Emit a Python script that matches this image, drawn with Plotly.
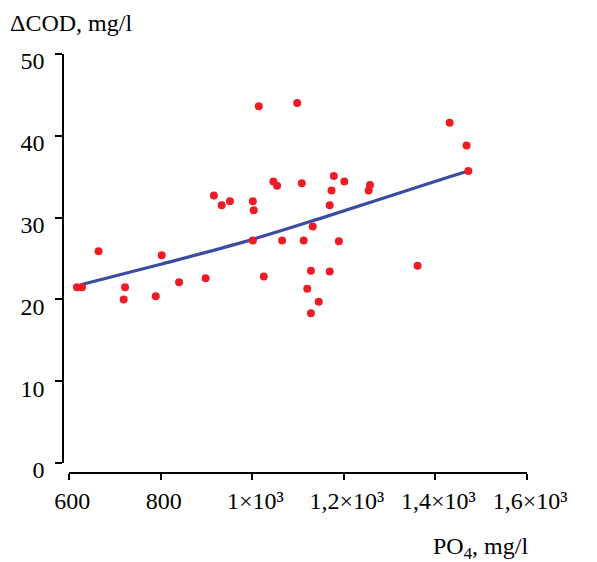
import plotly.graph_objects as go

# Scatter data: PO4 (mg/l) vs ΔCOD (mg/l)
po4 = [617, 628, 664, 722, 719, 789, 802, 840, 898, 916,
       933, 951, 1001, 1003, 1001, 1014, 1025, 1046, 1054, 1065,
       1098, 1108, 1112, 1120, 1128, 1128, 1132, 1145, 1169, 1169,
       1173, 1178, 1189, 1201, 1254, 1257, 1361, 1431, 1468, 1472]
dcod = [21.5, 21.5, 25.9, 21.5, 20.0, 20.4, 25.4, 22.1, 22.6, 32.7,
        31.5, 32.0, 32.0, 30.9, 27.2, 43.6, 22.8, 34.4, 33.9, 27.2,
        44.0, 34.2, 27.2, 21.3, 23.5, 18.3, 28.9, 19.7, 31.5, 23.4,
        33.3, 35.1, 27.1, 34.4, 33.3, 34.0, 24.1, 41.6, 38.8, 35.7]

# Trend curve
trend_x = [625, 800, 980, 1154, 1414, 1472]
trend_y = [21.8, 24.3, 27.0, 30.0, 34.7, 35.7]

x_tickvals = [600, 800, 1000, 1200, 1400, 1600]
x_ticktext = ["600", "800", "1×10³", "1,2×10³", "1,4×10³", "1,6×10³"]
y_tickvals = [0, 10, 20, 30, 40, 50]

FONT = "Liberation Serif"
FS = 24
OFF = 8  # page body margin

fig = go.Figure()
fig.add_trace(go.Scatter(
    x=trend_x, y=trend_y, mode="lines",
    line=dict(color="#3B4DA0", width=3.2, shape="spline"),
    hoverinfo="skip", showlegend=False))
fig.add_trace(go.Scatter(
    x=po4, y=dcod, mode="markers",
    marker=dict(color="#EE1C25", size=8, line=dict(width=0)),
    showlegend=False))

W, H = 597 - OFF, 562 - OFF
L = 58 - OFF
T = 54 - OFF
R = W - (527 - OFF)
B = H - (473 - OFF)
ph = H - T - B
pw = W - L - R

fig.update_layout(
    width=W, height=H,
    margin=dict(l=L, r=R, t=T, b=B, pad=0),
    paper_bgcolor="white", plot_bgcolor="white",
    font=dict(family=FONT, size=FS, color="black"),
    xaxis=dict(
        range=[600, 1600], domain=[(64.3 - 58) / pw, 1],
        anchor="free", position=0,
        tickvals=x_tickvals, ticktext=x_ticktext,
        showgrid=False, zeroline=False,
        showline=True, linecolor="black", linewidth=1.5,
        ticks="outside", ticklen=6, tickwidth=1.5, tickcolor="black",
        ticklabelstandoff=0, ticklabelshift=3,
        tickfont=dict(family=FONT, size=FS, color="black"),
    ),
    yaxis=dict(
        range=[0, 50], domain=[(473 - 463) / ph, 1],
        anchor="free", position=0,
        tickvals=y_tickvals,
        showgrid=False, zeroline=False,
        showline=True, linecolor="black", linewidth=1.5,
        ticks="outside", ticklen=7, tickwidth=1.5, tickcolor="black",
        ticklabelstandoff=6, ticklabelshift=7,
        tickfont=dict(family=FONT, size=FS, color="black"),
    ),
    annotations=[
        dict(text="ΔCOD, mg/l", xref="paper", yref="paper",
             x=(2 - 58) / pw, y=(473 - 23) / ph, xanchor="left", yanchor="middle",
             showarrow=False, font=dict(family=FONT, size=FS, color="black")),
        dict(text="PO<sub>4</sub>, mg/l", xref="paper", yref="paper",
             x=(430 - 58) / pw, y=(473 - 548) / ph, xanchor="left", yanchor="middle",
             showarrow=False, font=dict(family=FONT, size=FS, color="black")),
    ],
)

fig.write_html("out.html")
